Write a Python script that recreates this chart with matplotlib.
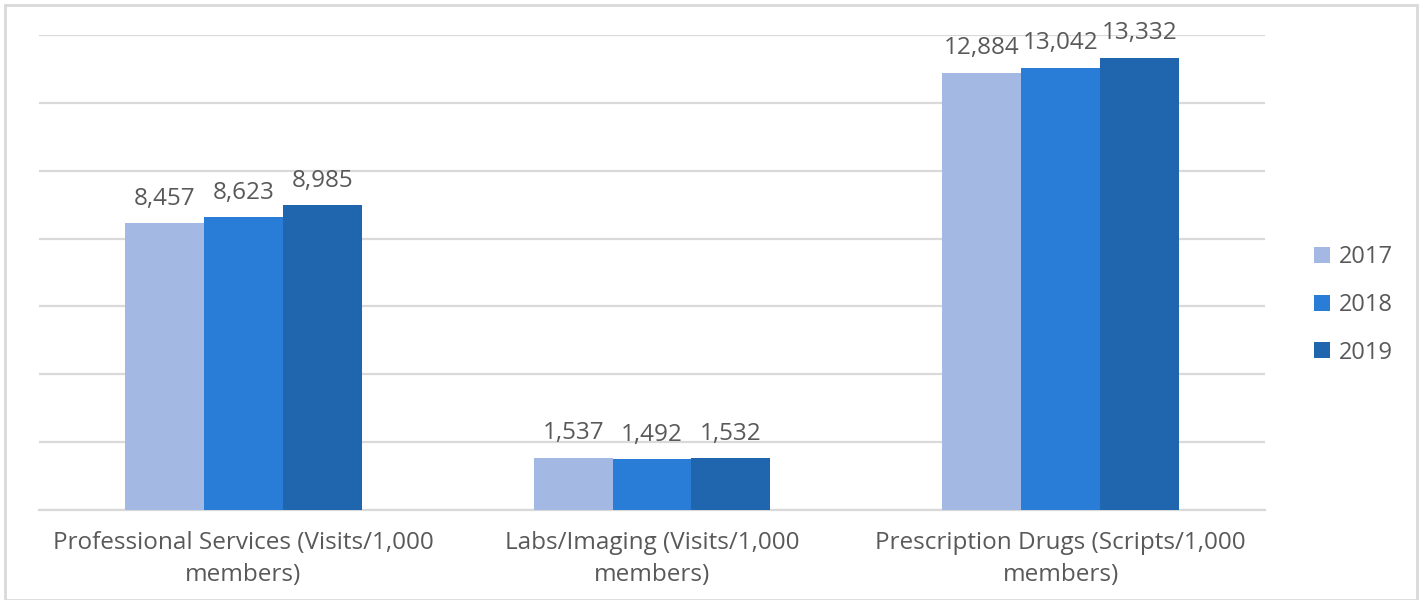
import matplotlib.pyplot as plt
import numpy as np
from matplotlib.patches import Rectangle

# datos del grafico
categorias = ['Professional Services (Visits/1,000\nmembers)',
              'Labs/Imaging (Visits/1,000\nmembers)',
              'Prescription Drugs (Scripts/1,000\nmembers)']
anios = ['2017', '2018', '2019']
v2017 = [8457, 1537, 12884]
v2018 = [8623, 1492, 13042]
v2019 = [8985, 1532, 13332]
colores = ['#A3B9E4', '#2A7DD6', '#2066AE']

plt.rcParams['font.family'] = ['Open Sans', 'DejaVu Sans']
gris = '#595959'

fig = plt.figure(figsize=(14.24, 6), dpi=100)
ax = fig.add_axes([39/1424, 1 - 510/600, (1265 - 39)/1424, (510 - 35)/600])

x = np.arange(len(categorias))
ancho = 0.193
for i, (serie, col) in enumerate(zip([v2017, v2018, v2019], colores)):
    barras = ax.bar(x + (i - 1)*ancho, serie, ancho, color=col, label=anios[i], zorder=3)
    ax.bar_label(barras, labels=[f'{v:,}' for v in serie], padding=9,
                 fontsize=17.5, color=gris)

ax.set_xlim(-0.5, 2.5)
ax.set_ylim(0, 14000)
ax.set_yticks(np.arange(0, 14001, 2000))
ax.set_yticklabels([])
ax.tick_params(axis='y', length=0)
ax.tick_params(axis='x', length=0, pad=15)
ax.set_xticks(x)
ax.set_xticklabels(categorias, fontsize=17.5, color=gris, linespacing=1.45)
ax.grid(axis='y', color='#D9D9D9', linewidth=1.6, zorder=0)
for s in ['top', 'right', 'left']:
    ax.spines[s].set_visible(False)
ax.spines['bottom'].set_color('#D9D9D9')
ax.spines['bottom'].set_linewidth(1.6)

leg = fig.legend(loc='center left', bbox_to_anchor=(1293/1424, 1 - 305/600),
                 frameon=False, fontsize=17, labelcolor=gris,
                 handlelength=0.65, handleheight=0.65, handletextpad=0.4,
                 labelspacing=1.0)

fig.patches.append(Rectangle((5/1424, 0), (1417 - 5)/1424, 1 - 5/600,
                             transform=fig.transFigure, fill=False,
                             edgecolor='#D9D9D9', linewidth=2))

fig.savefig('out.png', dpi=100)
